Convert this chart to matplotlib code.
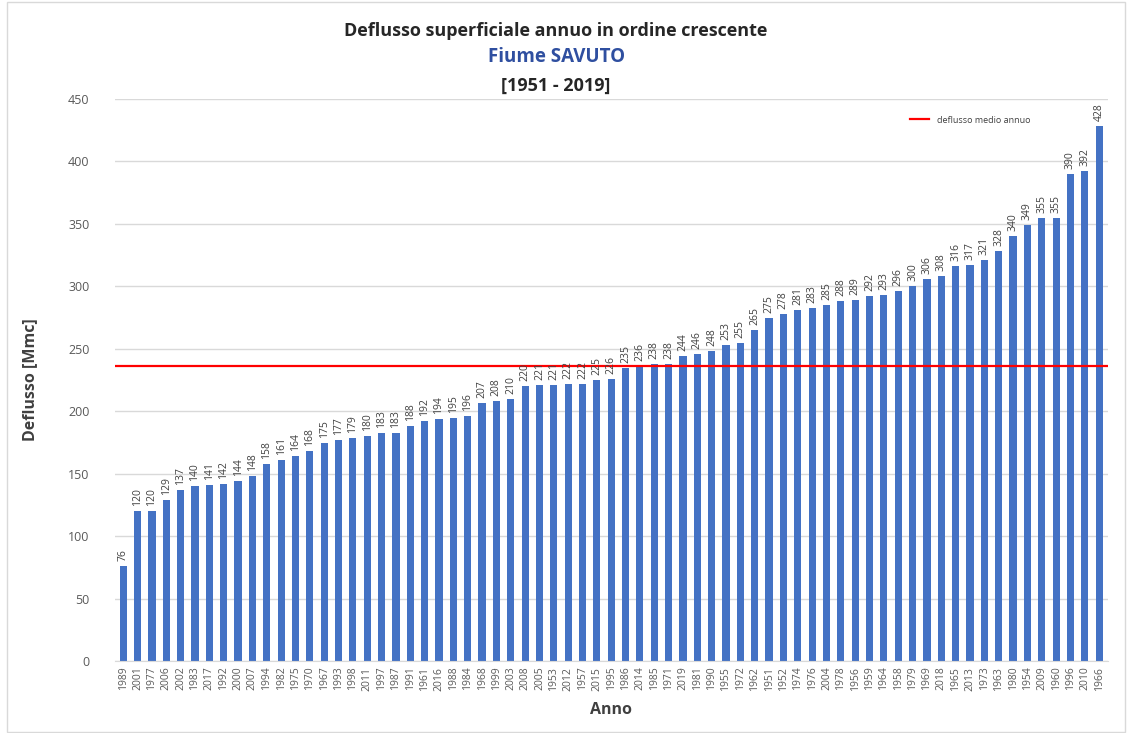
import numpy as np
import matplotlib.pyplot as plt
from matplotlib.patches import Rectangle

plt.rcParams['font.family'] = ['Open Sans', 'DejaVu Sans']

# years sorted by runoff (ascending)
anni = ['1989', '2001', '1977', '2006', '2002', '1983', '2017', '1992', '2000', '2007',
        '1994', '1982', '1975', '1970', '1967', '1993', '1998', '2011', '1997', '1987',
        '1991', '1961', '2016',
        '1988', '1984', '1968', '1999', '2003', '2008', '2005', '1953', '2012', '1957',
        '2015', '1995', '1986', '2014', '1985', '1971', '2019', '1981', '1990', '1955',
        '1972', '1962', '1951',
        '1952', '1974', '1976', '2004', '1978', '1956', '1959', '1964', '1958', '1979',
        '1969', '2018', '1965', '2013', '1973', '1963', '1980', '1954', '2009', '1960',
        '1996', '2010', '1966']
deflusso = [76, 120, 120, 129, 137, 140, 141, 142, 144, 148, 158, 161, 164, 168, 175,
            177, 179, 180, 183, 183, 188, 192, 194,
            195, 196, 207, 208, 210, 220, 221, 221, 222, 222, 225, 226, 235, 236, 238,
            238, 244, 246, 248, 253, 255, 265, 275,
            278, 281, 283, 285, 288, 289, 292, 293, 296, 300, 306, 308, 316, 317, 321,
            328, 340, 349, 355, 355, 390, 392, 428]
medio = 236.2

fig = plt.figure(figsize=(11.35, 7.33), dpi=100)
ax = fig.add_axes([0.101, 0.098, 0.875, 0.767])

x = np.arange(len(anni))
ax.bar(x, deflusso, width=0.5, color='#4472C4', zorder=2)
ax.axhline(medio, color='#FF0000', lw=1.6, zorder=3, label='deflusso medio annuo')

for xi, v in zip(x, deflusso):
    ax.text(xi, v + 4, str(v), rotation=90, ha='center', va='bottom',
            fontsize=7.5, color='#404040')

ax.set_xlim(-0.6, len(anni) - 0.4)
ax.set_ylim(0, 450)
ax.set_yticks(np.arange(0, 451, 50))
ax.set_xticks(x)
ax.set_xticklabels(anni, rotation=90, fontsize=7.5, color='#595959')
ax.tick_params(axis='y', labelsize=9, colors='#595959', length=0, pad=18)
ax.tick_params(axis='x', length=0, pad=4)
ax.yaxis.grid(True, color='#D9D9D9', lw=1, zorder=0)
for s in ['top', 'right', 'left']:
    ax.spines[s].set_visible(False)
ax.spines['bottom'].set_color('#D9D9D9')

ax.set_ylabel('Deflusso [Mmc]', fontsize=11.5, fontweight='bold', color='#404040', labelpad=22)
ax.set_xlabel('Anno', fontsize=11.5, fontweight='bold', color='#404040', labelpad=8)

ax.legend(loc='upper right', bbox_to_anchor=(0.93, 0.985), frameon=False, fontsize=6.5,
          handlelength=2.2, labelcolor='#404040')

fig.text(0.49, 0.958, 'Deflusso superficiale annuo in ordine crescente', ha='center',
         va='center', fontsize=13, fontweight='bold', color='#262626')
fig.text(0.49, 0.922, 'Fiume SAVUTO', ha='center', va='center', fontsize=13.5,
         fontweight='bold', color='#2F4FA0')
fig.text(0.49, 0.883, '[1951 - 2019]', ha='center', va='center', fontsize=13,
         fontweight='bold', color='#262626')

fig.patches.append(Rectangle((0.006, 0.002), 0.985, 0.995, transform=fig.transFigure,
                             fill=False, edgecolor='#D9D9D9', lw=1))

fig.savefig('out.png', dpi=100)
